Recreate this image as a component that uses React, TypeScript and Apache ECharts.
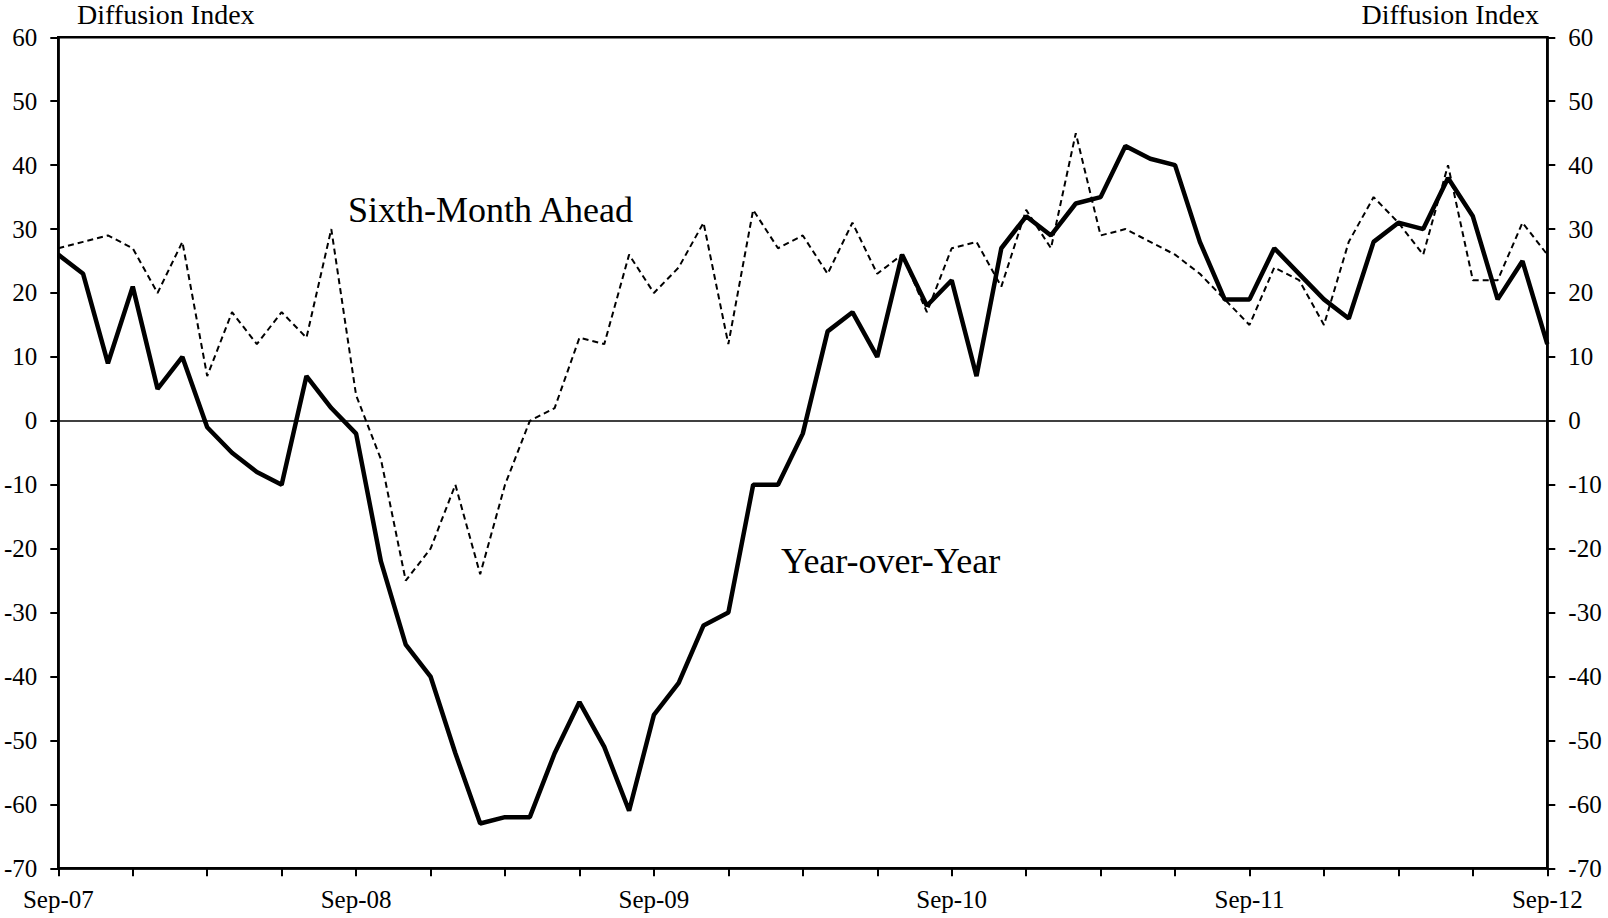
import React, { useEffect, useRef } from "react";
import * as echarts from "echarts";

const months = [
  "Sep-07", "Oct-07", "Nov-07", "Dec-07",
  "Jan-08", "Feb-08", "Mar-08", "Apr-08", "May-08", "Jun-08", "Jul-08", "Aug-08", "Sep-08", "Oct-08", "Nov-08", "Dec-08",
  "Jan-09", "Feb-09", "Mar-09", "Apr-09", "May-09", "Jun-09", "Jul-09", "Aug-09", "Sep-09", "Oct-09", "Nov-09", "Dec-09",
  "Jan-10", "Feb-10", "Mar-10", "Apr-10", "May-10", "Jun-10", "Jul-10", "Aug-10", "Sep-10", "Oct-10", "Nov-10", "Dec-10",
  "Jan-11", "Feb-11", "Mar-11", "Apr-11", "May-11", "Jun-11", "Jul-11", "Aug-11", "Sep-11", "Oct-11", "Nov-11", "Dec-11",
  "Jan-12", "Feb-12", "Mar-12", "Apr-12", "May-12", "Jun-12", "Jul-12", "Aug-12", "Sep-12",
];

const yearOverYear = [
  26, 23, 9, 21, 5, 10, -1, -5, -8, -10,
  7, 2, -2, -22, -35, -40, -52, -63, -62, -62,
  -52, -44, -51, -61, -46, -41, -32, -30, -10, -10,
  -2, 14, 17, 10, 26, 18, 22, 7, 27, 32,
  29, 34, 35, 43, 41, 40, 28, 19, 19, 27,
  23, 19, 16, 28, 31, 30, 38, 32, 19, 25,
  12,
];

const sixMonthAhead = [
  27, 28, 29, 27, 20, 28, 7, 17, 12, 17,
  13, 30, 4, -6, -25, -20, -10, -24, -10, 0,
  2, 13, 12, 26, 20, 24, 31, 12, 33, 27,
  29, 23, 31, 23, 26, 17, 27, 28, 21, 33,
  27, 45, 29, 30, 28, 26, 23, 19, 15, 24,
  22, 15, 28, 35, 31, 26, 40, 22, 22, 31,
  26,
];

const yMin = -70;
const yMax = 60;
const yStep = 10;

const FONT = "'Liberation Serif', 'Times New Roman', serif";

export default function App() {
  const ref = useRef<HTMLDivElement>(null);

  useEffect(() => {
    if (!ref.current) return;
    const chart = echarts.init(ref.current, null, { renderer: "svg" });

    const yAxisBase = {
      type: "value",
      min: yMin,
      max: yMax,
      interval: yStep,
      axisLine: { show: true, lineStyle: { color: "#000", width: 2.5 } },
      axisTick: { show: true, inside: false, length: 8, lineStyle: { color: "#000", width: 2 } },
      axisLabel: { color: "#000", fontFamily: FONT, fontSize: 25, margin: 21 },
      splitLine: { show: false },
    };

    const option = {
      animation: false,
      backgroundColor: "#fff",
      grid: {
        left: 58.3,
        right: 60.7,
        top: 37.3,
        bottom: 49.7,
        show: true,
        borderColor: "#000",
        borderWidth: 2.5,
        backgroundColor: "transparent",
      },
      xAxis: {
        type: "category",
        data: months,
        boundaryGap: false,
        axisLine: { show: true, onZero: false, lineStyle: { color: "#000", width: 2.5 } },
        axisTick: {
          show: true,
          interval: (i: number) => i % 3 === 0,
          length: 8,
          lineStyle: { color: "#000", width: 2 },
        },
        axisLabel: {
          interval: (i: number) => i % 12 === 0,
          color: "#000",
          fontFamily: FONT,
          fontSize: 25,
          margin: 19,
        },
        splitLine: { show: false },
      },
      yAxis: [
        { ...yAxisBase, position: "left" },
        { ...yAxisBase, position: "right" },
      ],
      series: [
        {
          name: "Year-over-Year",
          type: "line",
          data: yearOverYear,
          yAxisIndex: 0,
          symbol: "none",
          lineStyle: { color: "#000", width: 4.5, type: "solid" },
          z: 3,
          markLine: {
            silent: true,
            symbol: ["none", "none"],
            label: { show: false },
            lineStyle: { color: "#000", width: 1.5, type: "solid" },
            data: [{ yAxis: 0 }],
          },
        },
        {
          name: "Sixth-Month Ahead",
          type: "line",
          data: sixMonthAhead,
          yAxisIndex: 0,
          symbol: "none",
          lineStyle: { color: "#000", width: 2, type: [6, 4] },
          z: 4,
        },
      ],
      graphic: [
        {
          type: "text",
          left: 77,
          top: 0,
          style: { text: "Diffusion Index", fill: "#000", font: `28px ${FONT}` },
        },
        {
          type: "text",
          right: 1608 - 1539,
          top: 0,
          style: { text: "Diffusion Index", fill: "#000", font: `28px ${FONT}` },
        },
        {
          type: "text",
          left: 348,
          top: 192,
          style: { text: "Sixth-Month Ahead", fill: "#000", font: `36px ${FONT}` },
        },
        {
          type: "text",
          left: 781,
          top: 543,
          style: { text: "Year-over-Year", fill: "#000", font: `36px ${FONT}` },
        },
      ],
    };

    chart.setOption(option as any);
    return () => chart.dispose();
  }, []);

  return (
    <div
      ref={ref}
      style={{ position: "absolute", left: 0, top: 0, width: 1608, height: 918 }}
    />
  );
}
